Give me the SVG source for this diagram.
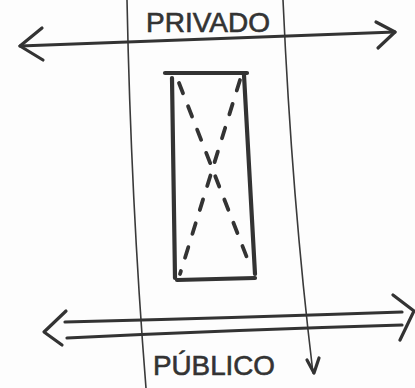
<svg xmlns="http://www.w3.org/2000/svg" width="415" height="388" viewBox="0 0 415 388">
<style>
.thin{fill:none;stroke:#3a3a3a;stroke-width:1.6;stroke-linecap:round;stroke-linejoin:round}
.med{fill:none;stroke:#333;stroke-width:3.2;stroke-linecap:round;stroke-linejoin:round}
.thick{fill:none;stroke:#333;stroke-width:4.2;stroke-linecap:round;stroke-linejoin:round}
.dash{fill:none;stroke:#333;stroke-width:3.8;stroke-linecap:round;stroke-dasharray:11 14}
.lbl{font-family:"Liberation Sans",Arial,sans-serif;font-size:27px;fill:#333;stroke:#333;stroke-width:0.6}
</style>
<rect width="415" height="388" fill="#fdfdfd"/>
<g id="boundaries">
<path class="thin" d="M127,0 Q131,200 146,388"/>
<path class="thin" d="M283,0 Q292,200 313,373"/>
<path class="med" d="M307,360 L314,373 L319,358"/>
</g>
<g id="privado">
<text class="lbl" x="146" y="32" textLength="124" lengthAdjust="spacingAndGlyphs">PRIVADO</text>
</g>
<g id="publico">
<text class="lbl" x="153" y="375" textLength="122" lengthAdjust="spacingAndGlyphs">PÚBLICO</text>
</g>
<g id="block">
<path class="thick" d="M165,73 L247,73"/>
<path class="thick" d="M172,78 L175,278"/>
<path class="thick" d="M244,75 L255,274"/>
<path class="thick" d="M177,280 L255,278"/>
<path class="dash" d="M179,83 L251,268"/>
<path class="dash" d="M240,80 L180,274"/>
</g>
<g id="connectors">
<path class="med" d="M20,46 Q200,40 395,32"/>
<path class="med" d="M42,28 L20,46 L43,60"/>
<path class="med" d="M376,22 L395,32 L378,48"/>
<path class="med" d="M65,322 Q230,318 402,312"/>
<path class="med" d="M67,338 Q230,330 402,325"/>
<path class="med" d="M66,311 L44,332 L62,345"/>
<path class="med" d="M393,295 L414,311 L400,340"/>
</g>
</svg>
